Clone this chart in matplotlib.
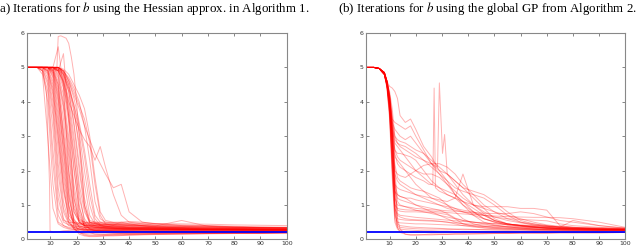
"""Two panels of iteration traces for the parameter b (Hessian approx. vs global GP)."""
import matplotlib
matplotlib.use("Agg")
import matplotlib.pyplot as plt

# ---- panel (a): Hessian approximation, values on a shared iteration grid ----
XA = [1, 5, 7, 9, 11, 13, 15, 17, 19, 21, 23, 25, 27, 29, 31, 34, 37, 40, 45, 50, 60, 70, 80, 90, 100]
YA = [
    [5, 5, 4.8, 3.0, 0.9, 0.45, 0.35, 0.3, 0.28, 0.27, 0.27, 0.26, 0.26, 0.25, 0.25, 0.25, 0.24, 0.24, 0.24, 0.23, 0.23, 0.22, 0.22, 0.22, 0.22],
    [5, 5, 4.9, 4.0, 1.6, 0.5, 0.4, 0.35, 0.33, 0.32, 0.32, 0.3, 0.3, 0.3, 0.3, 0.29, 0.29, 0.28, 0.28, 0.27, 0.27, 0.26, 0.26, 0.25, 0.25],
    [5, 5, 4.95, 4.5, 2.6, 0.9, 0.5, 0.42, 0.38, 0.36, 0.35, 0.34, 0.33, 0.33, 0.32, 0.32, 0.31, 0.31, 0.3, 0.3, 0.29, 0.29, 0.28, 0.28, 0.28],
    [5, 5, 5, 4.7, 3.6, 1.5, 0.6, 0.4, 0.35, 0.3, 0.28, 0.27, 0.26, 0.26, 0.25, 0.25, 0.25, 0.24, 0.24, 0.24, 0.23, 0.23, 0.23, 0.22, 0.22],
    [5, 5, 5, 4.8, 3.8, 1.9, 0.8, 0.45, 0.4, 0.38, 0.36, 0.35, 0.35, 0.34, 0.34, 0.33, 0.33, 0.32, 0.32, 0.32, 0.31, 0.3, 0.3, 0.3, 0.3],
    [5, 5, 5, 4.9, 4.2, 2.6, 1.1, 0.5, 0.3, 0.2, 0.15, 0.12, 0.12, 0.12, 0.13, 0.13, 0.14, 0.14, 0.15, 0.15, 0.16, 0.17, 0.17, 0.18, 0.18],
    [5, 5, 5, 4.9, 4.4, 2.9, 1.4, 0.6, 0.45, 0.42, 0.4, 0.4, 0.39, 0.38, 0.37, 0.36, 0.35, 0.34, 0.33, 0.32, 0.3, 0.29, 0.28, 0.27, 0.27],
    [5, 5, 5, 4.95, 4.6, 3.4, 1.8, 0.8, 0.5, 0.4, 0.35, 0.33, 0.32, 0.3, 0.3, 0.29, 0.28, 0.28, 0.27, 0.26, 0.26, 0.25, 0.25, 0.24, 0.24],
    [5, 5, 5, 5, 4.7, 3.6, 2.0, 0.9, 0.4, 0.3, 0.25, 0.22, 0.21, 0.2, 0.2, 0.2, 0.2, 0.2, 0.2, 0.2, 0.2, 0.2, 0.2, 0.2, 0.2],
    [5, 5, 5, 5, 4.8, 4.0, 2.6, 1.2, 0.55, 0.45, 0.42, 0.4, 0.4, 0.4, 0.39, 0.38, 0.37, 0.36, 0.35, 0.34, 0.33, 0.32, 0.31, 0.3, 0.3],
    [5, 5, 5, 5, 4.85, 4.2, 2.5, 1.0, 0.45, 0.35, 0.3, 0.28, 0.27, 0.26, 0.26, 0.25, 0.25, 0.25, 0.24, 0.24, 0.24, 0.23, 0.23, 0.23, 0.23],
    [5, 5, 5, 5, 4.9, 4.4, 3.2, 1.8, 0.8, 0.5, 0.45, 0.42, 0.4, 0.38, 0.37, 0.36, 0.36, 0.35, 0.34, 0.33, 0.32, 0.3, 0.3, 0.29, 0.29],
    [5, 5, 5, 5, 4.9, 4.5, 3.0, 1.4, 0.5, 0.2, 0.12, 0.1, 0.1, 0.1, 0.11, 0.12, 0.12, 0.13, 0.14, 0.15, 0.16, 0.17, 0.18, 0.18, 0.19],
    [5, 5, 5, 5, 4.95, 4.6, 3.8, 2.4, 1.0, 0.5, 0.4, 0.38, 0.36, 0.35, 0.34, 0.33, 0.33, 0.32, 0.31, 0.3, 0.29, 0.28, 0.28, 0.27, 0.27],
    [5, 5, 5, 5, 4.95, 4.7, 3.9, 2.6, 1.2, 0.55, 0.45, 0.43, 0.42, 0.41, 0.4, 0.4, 0.39, 0.38, 0.36, 0.35, 0.34, 0.33, 0.32, 0.31, 0.31],
    [5, 5, 5, 5, 5, 4.8, 4.2, 3.0, 1.6, 0.7, 0.4, 0.3, 0.27, 0.25, 0.24, 0.23, 0.23, 0.22, 0.22, 0.22, 0.21, 0.21, 0.21, 0.21, 0.21],
    [5, 5, 5, 5, 5, 4.85, 4.4, 3.4, 2.0, 0.9, 0.5, 0.45, 0.44, 0.43, 0.42, 0.42, 0.41, 0.4, 0.38, 0.37, 0.35, 0.34, 0.33, 0.33, 0.32],
    [5, 5, 5, 5, 5, 4.9, 4.5, 3.6, 2.4, 1.2, 0.6, 0.4, 0.35, 0.32, 0.3, 0.3, 0.29, 0.28, 0.28, 0.27, 0.26, 0.26, 0.25, 0.25, 0.25],
    [5, 5, 5, 5, 5, 4.9, 4.6, 3.8, 2.5, 1.0, 0.35, 0.2, 0.15, 0.14, 0.14, 0.14, 0.15, 0.15, 0.16, 0.17, 0.18, 0.18, 0.19, 0.19, 0.2],
    [5, 5, 5, 5, 5, 4.95, 4.7, 4.1, 3.0, 1.6, 0.8, 0.5, 0.45, 0.44, 0.43, 0.42, 0.42, 0.41, 0.4, 0.38, 0.36, 0.35, 0.34, 0.33, 0.32],
    [5, 5, 5, 5, 5, 4.95, 4.75, 4.3, 3.4, 2.2, 1.0, 0.5, 0.4, 0.36, 0.34, 0.33, 0.32, 0.31, 0.3, 0.3, 0.29, 0.28, 0.28, 0.27, 0.27],
    [5, 5, 5, 5, 5, 5, 4.8, 4.4, 3.7, 2.8, 1.6, 0.7, 0.45, 0.4, 0.38, 0.36, 0.35, 0.34, 0.33, 0.32, 0.31, 0.3, 0.3, 0.29, 0.29],
    [5, 5, 5, 5, 5, 5, 4.85, 4.5, 3.9, 3.1, 2.0, 1.0, 0.5, 0.4, 0.36, 0.34, 0.33, 0.32, 0.31, 0.3, 0.29, 0.28, 0.28, 0.27, 0.27],
    [5, 5, 5, 5, 5, 5, 4.9, 4.6, 4.1, 3.4, 2.6, 1.6, 0.7, 0.5, 0.45, 0.44, 0.43, 0.42, 0.4, 0.38, 0.36, 0.35, 0.34, 0.33, 0.33],
    [5, 5, 5, 5, 5, 5, 4.9, 4.7, 4.4, 4.0, 3.3, 2.3, 1.1, 0.6, 0.5, 0.48, 0.46, 0.45, 0.44, 0.42, 0.38, 0.36, 0.35, 0.34, 0.34],
    [5, 5, 5, 5, 5, 5, 4.95, 4.8, 4.5, 4.2, 3.8, 3.0, 1.8, 0.8, 0.55, 0.5, 0.5, 0.52, 0.5, 0.46, 0.4, 0.37, 0.36, 0.35, 0.35],
    [5, 5, 5, 5, 5, 4.9, 4.6, 4.0, 3.6, 3.2, 2.9, 2.7, 2.3, 2.7, 2.1, 1.3, 0.7, 0.5, 0.45, 0.42, 0.4, 0.38, 0.36, 0.35, 0.34],
    [5, 5, 5, 5, 5, 5, 4.9, 4.6, 4.2, 3.8, 3.3, 2.9, 2.5, 2.2, 1.9, 1.5, 1.6, 0.8, 0.5, 0.45, 0.42, 0.4, 0.38, 0.36, 0.35],
    [5, 5, 5, 5, 5, 5.6, 4.4, 2.0, 0.8, 0.5, 0.4, 0.37, 0.35, 0.34, 0.33, 0.32, 0.31, 0.3, 0.3, 0.29, 0.28, 0.28, 0.27, 0.27, 0.26],
    [5, 5, 5, 5, 4.95, 4.9, 5.4, 3.5, 1.2, 0.5, 0.4, 0.38, 0.36, 0.35, 0.34, 0.33, 0.32, 0.31, 0.3, 0.3, 0.29, 0.28, 0.28, 0.27, 0.27],
    [5, 5, 4.95, 4.6, 3.2, 1.2, 0.55, 0.5, 0.48, 0.47, 0.46, 0.45, 0.45, 0.44, 0.43, 0.42, 0.5, 0.45, 0.4, 0.36, 0.33, 0.3, 0.3, 0.29, 0.29],
    [5, 5, 5, 4.85, 4.0, 2.2, 0.9, 0.5, 0.35, 0.3, 0.28, 0.27, 0.26, 0.25, 0.25, 0.24, 0.24, 0.23, 0.23, 0.23, 0.22, 0.22, 0.21, 0.21, 0.21],
    [5, 5, 5, 4.9, 4.3, 3.0, 1.5, 0.7, 0.5, 0.45, 0.42, 0.4, 0.4, 0.39, 0.38, 0.37, 0.37, 0.36, 0.35, 0.34, 0.33, 0.32, 0.31, 0.31, 0.3],
    [5, 5, 5, 5, 4.75, 3.8, 2.2, 1.0, 0.35, 0.15, 0.1, 0.08, 0.08, 0.09, 0.1, 0.1, 0.11, 0.12, 0.13, 0.14, 0.15, 0.16, 0.17, 0.17, 0.18],
    [5, 5, 5, 5, 4.9, 4.3, 3.0, 1.6, 0.6, 0.35, 0.3, 0.3, 0.3, 0.3, 0.29, 0.29, 0.29, 0.28, 0.28, 0.28, 0.27, 0.27, 0.27, 0.26, 0.26],
    [5, 5, 5, 5, 5, 4.75, 4.0, 2.8, 1.4, 0.6, 0.5, 0.48, 0.47, 0.46, 0.45, 0.44, 0.43, 0.42, 0.4, 0.39, 0.55, 0.38, 0.35, 0.34, 0.33],
    [5, 5, 5, 5, 5, 4.9, 4.55, 3.6, 2.1, 0.8, 0.4, 0.32, 0.3, 0.28, 0.27, 0.26, 0.26, 0.25, 0.25, 0.24, 0.24, 0.23, 0.23, 0.23, 0.22],
    [5, 5, 5, 5, 5, 4.95, 4.65, 3.9, 2.8, 1.4, 0.5, 0.3, 0.25, 0.22, 0.2, 0.18, 0.17, 0.17, 0.17, 0.17, 0.18, 0.18, 0.19, 0.19, 0.2],
    [5, 5, 5, 5, 5, 5, 4.8, 4.3, 3.3, 2.0, 0.9, 0.45, 0.38, 0.35, 0.33, 0.32, 0.31, 0.3, 0.3, 0.29, 0.28, 0.28, 0.27, 0.27, 0.26],
    [5, 5, 5, 5, 5, 5, 4.85, 4.5, 3.8, 2.6, 1.2, 0.55, 0.5, 0.48, 0.47, 0.46, 0.45, 0.44, 0.42, 0.4, 0.37, 0.4, 0.36, 0.34, 0.33],
    [5, 5, 5, 4.95, 4.5, 3.2, 1.6, 0.6, 0.3, 0.2, 0.17, 0.16, 0.16, 0.16, 0.16, 0.17, 0.17, 0.17, 0.18, 0.18, 0.18, 0.19, 0.19, 0.19, 0.2],
    [5, 5, 5, 5, 4.85, 4.1, 2.8, 1.3, 0.5, 0.38, 0.35, 0.34, 0.33, 0.32, 0.32, 0.31, 0.31, 0.3, 0.3, 0.29, 0.29, 0.28, 0.28, 0.28, 0.27],
    [5, 5, 5, 5, 4.95, 4.5, 3.5, 2.0, 0.9, 0.55, 0.5, 0.5, 0.5, 0.5, 0.5, 0.49, 0.48, 0.48, 0.47, 0.46, 0.45, 0.44, 0.42, 0.41, 0.4],
    [5, 5, 5, 5, 5, 5, 4.9, 4.65, 4.3, 3.9, 3.5, 2.8, 1.6, 0.7, 0.45, 0.4, 0.38, 0.36, 0.35, 0.34, 0.32, 0.31, 0.3, 0.3, 0.29],
    [5, 5, 5, 5, 5, 4.95, 4.8, 4.4, 3.9, 3.3, 2.4, 1.3, 0.6, 0.42, 0.38, 0.36, 0.35, 0.34, 0.33, 0.32, 0.31, 0.3, 0.29, 0.29, 0.28],
    [5, 5, 4.9, 4.3, 2.2, 0.7, 0.4, 0.32, 0.3, 0.28, 0.27, 0.27, 0.26, 0.26, 0.26, 0.25, 0.25, 0.25, 0.24, 0.24, 0.24, 0.23, 0.23, 0.23, 0.23],
]
# traces of (a) that need their own iteration points
XA_EXTRA = [
    [1, 5, 7, 8.5, 9.7, 9.9, 11, 13, 15, 20, 30, 40, 50, 70, 100],
    [1, 5, 9, 12.5, 13, 14, 16, 17, 18, 19, 20, 21, 23, 25, 30, 40, 50, 70, 100],
]
YA_EXTRA = [
    [5, 5, 4.9, 4.3, 1.6, 0.25, 0.2, 0.22, 0.25, 0.27, 0.28, 0.28, 0.28, 0.27, 0.26],
    [5, 5, 5, 5, 5.9, 5.92, 5.85, 5.7, 5.3, 4.8, 4.0, 3.0, 1.0, 0.5, 0.42, 0.4, 0.36, 0.32, 0.3],
]

# ---- panel (b): global GP ----
XB = [1, 4, 6, 8, 9, 10, 11, 12, 13, 14, 16, 18, 20, 23, 26, 29, 32, 35, 38, 42, 46, 50, 55, 60, 65, 70, 75, 80, 90, 100]
YB = [
    [5, 5, 4.97, 4.8, 4.4, 3.6, 2.0, 0.6, 0.35, 0.3, 0.28, 0.27, 0.26, 0.25, 0.25, 0.24, 0.24, 0.23, 0.23, 0.23, 0.22, 0.22, 0.22, 0.22, 0.21, 0.21, 0.21, 0.21, 0.21, 0.21],
    [5, 5, 4.97, 4.8, 4.5, 3.9, 2.6, 1.0, 0.45, 0.4, 0.38, 0.36, 0.35, 0.34, 0.33, 0.32, 0.31, 0.3, 0.3, 0.29, 0.28, 0.28, 0.27, 0.27, 0.26, 0.26, 0.25, 0.25, 0.25, 0.25],
    [5, 5, 4.97, 4.85, 4.6, 4.1, 3.2, 1.8, 0.6, 0.3, 0.15, 0.12, 0.12, 0.13, 0.13, 0.14, 0.14, 0.15, 0.15, 0.16, 0.16, 0.17, 0.17, 0.18, 0.18, 0.18, 0.19, 0.19, 0.19, 0.2],
    [5, 5, 4.97, 4.8, 4.5, 3.8, 2.4, 0.9, 0.7, 0.65, 0.6, 0.58, 0.57, 0.56, 0.55, 0.53, 0.5, 0.45, 0.4, 0.36, 0.33, 0.31, 0.3, 0.29, 0.28, 0.28, 0.27, 0.27, 0.26, 0.26],
    [5, 5, 4.97, 4.85, 4.55, 4.0, 3.0, 1.5, 0.85, 0.82, 0.8, 0.8, 0.8, 0.79, 0.78, 0.76, 0.72, 0.6, 0.45, 0.38, 0.34, 0.32, 0.3, 0.3, 0.29, 0.28, 0.28, 0.27, 0.27, 0.26],
    [5, 5, 4.97, 4.85, 4.6, 4.1, 3.1, 1.4, 1.2, 1.15, 1.1, 1.05, 1.0, 0.95, 0.9, 0.85, 0.75, 0.62, 0.55, 0.5, 0.45, 0.4, 0.36, 0.33, 0.31, 0.3, 0.29, 0.28, 0.27, 0.27],
    [5, 5, 4.97, 4.85, 4.6, 4.45, 4.4, 4.3, 4.1, 3.6, 3.4, 3.5, 3.2, 2.7, 2.4, 2.0, 1.7, 1.3, 1.0, 0.7, 0.5, 0.42, 0.36, 0.33, 0.3, 0.29, 0.28, 0.27, 0.26, 0.26],
    [5, 5, 4.97, 4.85, 4.6, 4.2, 3.5, 3.4, 3.35, 3.3, 3.2, 3.3, 3.0, 2.6, 2.2, 1.9, 1.6, 1.3, 1.1, 0.8, 0.6, 0.5, 0.42, 0.38, 0.35, 0.32, 0.3, 0.29, 0.28, 0.27],
    [5, 5, 4.97, 4.85, 4.6, 4.15, 3.4, 3.2, 3.1, 3.0, 2.9, 3.0, 2.8, 2.5, 2.2, 2.0, 1.9, 1.7, 1.5, 1.2, 0.9, 0.6, 0.45, 0.4, 0.36, 0.33, 0.31, 0.3, 0.29, 0.28],
    [5, 5, 4.97, 4.8, 4.55, 4.0, 3.2, 2.8, 2.7, 2.6, 2.4, 2.2, 2.0, 1.8, 1.6, 1.5, 1.4, 1.3, 1.1, 0.9, 0.7, 0.55, 0.45, 0.4, 0.36, 0.33, 0.31, 0.3, 0.29, 0.28],
    [5, 5, 4.97, 4.8, 4.5, 3.9, 3.0, 2.4, 2.3, 2.2, 2.0, 1.8, 1.6, 1.4, 1.2, 1.1, 1.0, 0.9, 0.8, 0.7, 0.6, 0.52, 0.45, 0.4, 0.36, 0.33, 0.31, 0.3, 0.29, 0.28],
    [5, 5, 4.97, 4.85, 4.6, 4.1, 3.2, 2.0, 1.9, 1.85, 1.8, 1.9, 2.0, 2.15, 2.2, 2.2, 2.1, 1.9, 1.6, 1.3, 1.0, 0.8, 0.6, 0.5, 0.45, 0.4, 0.36, 0.33, 0.3, 0.29],
    [5, 5, 4.97, 4.8, 4.5, 3.9, 2.8, 1.6, 1.5, 1.45, 1.4, 1.35, 1.3, 1.25, 1.2, 1.15, 1.1, 1.2, 1.9, 1.0, 0.8, 0.65, 0.55, 0.48, 0.42, 0.38, 0.35, 0.32, 0.3, 0.29],
    [5, 5, 4.97, 4.85, 4.55, 4.05, 3.1, 2.6, 2.5, 2.5, 2.45, 2.4, 2.3, 2.0, 1.7, 1.5, 1.3, 1.2, 1.1, 1.0, 0.95, 0.95, 0.95, 0.9, 0.9, 0.85, 0.4, 0.35, 0.31, 0.29],
    [5, 5, 4.97, 4.8, 4.5, 3.95, 2.9, 1.2, 1.0, 0.98, 0.95, 0.93, 0.9, 0.88, 0.86, 0.85, 0.83, 0.82, 0.8, 0.78, 0.76, 0.75, 0.75, 0.8, 0.75, 0.65, 0.55, 0.5, 0.4, 0.33],
    [5, 5, 4.97, 4.8, 4.45, 3.7, 2.2, 0.7, 0.5, 0.48, 0.47, 0.46, 0.45, 0.45, 0.44, 0.43, 0.42, 0.41, 0.4, 0.39, 0.38, 0.37, 0.36, 0.35, 0.34, 0.33, 0.32, 0.31, 0.3, 0.3],
    [5, 5, 4.97, 4.8, 4.5, 3.85, 2.7, 1.1, 0.6, 0.58, 0.56, 0.55, 0.55, 0.54, 0.53, 0.52, 0.5, 0.48, 0.46, 0.44, 0.42, 0.4, 0.38, 0.36, 0.34, 0.33, 0.32, 0.31, 0.3, 0.3],
    [5, 5, 4.97, 4.85, 4.6, 4.15, 3.3, 2.2, 1.8, 1.7, 1.6, 1.5, 1.45, 1.4, 1.3, 1.2, 1.0, 0.8, 0.6, 0.45, 0.38, 0.34, 0.32, 0.3, 0.29, 0.28, 0.27, 0.27, 0.26, 0.26],
    [5, 5, 4.97, 4.85, 4.58, 4.1, 3.3, 2.9, 2.8, 2.75, 2.7, 2.6, 2.5, 2.3, 2.1, 1.9, 1.7, 1.5, 1.4, 1.3, 1.2, 1.0, 0.7, 0.5, 0.42, 0.38, 0.35, 0.33, 0.31, 0.3],
    [5, 5, 4.97, 4.8, 4.5, 3.9, 2.9, 1.9, 1.7, 1.6, 1.5, 1.4, 1.3, 1.2, 1.1, 1.0, 0.9, 0.85, 0.8, 0.75, 0.7, 0.65, 0.6, 0.58, 0.56, 0.54, 0.45, 0.4, 0.35, 0.3],
    [5, 5, 4.97, 4.8, 4.4, 3.5, 1.8, 0.5, 0.3, 0.25, 0.22, 0.2, 0.2, 0.2, 0.19, 0.19, 0.19, 0.19, 0.19, 0.19, 0.19, 0.2, 0.2, 0.2, 0.2, 0.2, 0.2, 0.2, 0.2, 0.2],
    [5, 5, 4.97, 4.8, 4.45, 3.65, 2.1, 0.8, 0.4, 0.35, 0.33, 0.32, 0.31, 0.3, 0.3, 0.3, 0.29, 0.29, 0.28, 0.28, 0.28, 0.27, 0.27, 0.27, 0.26, 0.26, 0.26, 0.25, 0.25, 0.25],
    [5, 5, 4.97, 4.85, 4.55, 4.0, 3.1, 2.0, 1.1, 1.0, 0.95, 0.9, 0.85, 0.8, 0.75, 0.7, 0.65, 0.6, 0.55, 0.5, 0.47, 0.45, 0.43, 0.41, 0.39, 0.37, 0.35, 0.55, 0.4, 0.32],
    [5, 5, 4.97, 4.85, 4.6, 4.2, 3.4, 2.6, 2.4, 2.3, 2.2, 2.1, 2.0, 1.9, 1.9, 1.8, 1.6, 1.4, 1.2, 1.0, 0.9, 0.8, 0.7, 0.6, 0.5, 0.42, 0.38, 0.35, 0.32, 0.3],
    [5, 5, 4.97, 4.8, 4.5, 3.9, 2.8, 1.3, 0.75, 0.7, 0.68, 0.66, 0.64, 0.62, 0.6, 0.58, 0.56, 0.54, 0.52, 0.5, 0.48, 0.46, 0.44, 0.42, 0.4, 0.38, 0.36, 0.35, 0.34, 0.33],
    [5, 5, 4.97, 4.85, 4.55, 4.0, 3.0, 1.6, 1.3, 1.25, 1.2, 1.2, 1.15, 1.1, 1.05, 1.0, 0.95, 0.9, 0.85, 0.8, 0.7, 0.55, 0.45, 0.4, 0.37, 0.35, 0.33, 0.32, 0.3, 0.29],
    [5, 5, 4.97, 4.8, 4.45, 3.7, 2.3, 0.9, 0.35, 0.2, 0.15, 0.14, 0.14, 0.14, 0.15, 0.15, 0.15, 0.16, 0.16, 0.16, 0.17, 0.17, 0.17, 0.18, 0.18, 0.18, 0.19, 0.19, 0.19, 0.2],
    [5, 5, 4.97, 4.85, 4.6, 4.2, 3.45, 3.0, 2.9, 2.85, 2.8, 2.7, 2.6, 2.5, 2.3, 2.1, 1.9, 1.7, 1.5, 1.4, 1.3, 1.1, 0.8, 0.55, 0.45, 0.4, 0.36, 0.33, 0.31, 0.3],
    [5, 5, 4.97, 4.8, 4.5, 3.85, 2.5, 1.0, 0.9, 0.88, 0.86, 0.85, 0.84, 0.83, 0.82, 0.8, 0.78, 0.76, 0.74, 0.72, 0.7, 0.68, 0.66, 0.65, 0.64, 0.64, 0.63, 0.6, 0.5, 0.35],
    [5, 5, 4.97, 4.8, 4.5, 3.8, 2.4, 1.4, 1.3, 1.25, 1.2, 1.1, 1.0, 0.9, 0.8, 0.7, 0.6, 0.5, 0.45, 0.4, 0.37, 0.35, 0.33, 0.32, 0.31, 0.3, 0.29, 0.28, 0.27, 0.27],
]
XB_EXTRA = [
    [1, 4, 6, 8, 9, 10, 11, 12, 13, 14, 16, 18, 20, 23, 25, 26.5, 27, 27.5, 29, 32, 35, 38, 42, 46, 50, 55, 60, 70, 80, 90, 100],
    [1, 4, 6, 8, 9, 10, 11, 12, 13, 14, 16, 18, 20, 23, 26, 28.3, 29, 30.2, 31, 32, 35, 38, 42, 46, 50, 55, 60, 70, 80, 90, 100],
]
YB_EXTRA = [
    [5, 5, 4.97, 4.85, 4.6, 4.2, 3.6, 2.5, 2.2, 2.1, 2.0, 1.9, 1.8, 1.7, 1.6, 1.6, 4.4, 1.5, 1.4, 1.3, 1.2, 1.0, 0.8, 0.6, 0.5, 0.42, 0.38, 0.33, 0.3, 0.28, 0.27],
    [5, 5, 4.97, 4.85, 4.6, 4.3, 3.8, 3.0, 2.8, 2.7, 2.6, 2.5, 2.4, 2.3, 2.2, 2.1, 4.55, 2.5, 3.05, 1.9, 1.6, 1.3, 1.0, 0.75, 0.55, 0.45, 0.4, 0.35, 0.31, 0.29, 0.28],
]

TRUE_B = 0.2   # blue reference line
XTICKS = [10, 20, 30, 40, 50, 60, 70, 80, 90, 100]
YTICKS = [0, 1, 2, 3, 4, 5, 6]
TITLES = ["(a) Iterations for $b$ using the Hessian approx. in Algorithm 1.",
          "(b) Iterations for $b$ using the global GP from Algorithm 2."]

plt.rcParams["mathtext.fontset"] = "stix"

fig = plt.figure(figsize=(6.4, 2.46), dpi=100)
axes = [fig.add_axes([0.0417, 0.027, 0.4063, 0.8387]),
        fig.add_axes([0.5719, 0.027, 0.4052, 0.8387])]

panels = [(XA, YA, XA_EXTRA, YA_EXTRA), (XB, YB, XB_EXTRA, YB_EXTRA)]
for ax, (xg, rows, xs_extra, ys_extra) in zip(axes, panels):
    for ys in rows:
        ax.plot(xg, ys, color="red", alpha=0.3, lw=0.7)
    for xs, ys in zip(xs_extra, ys_extra):
        ax.plot(xs, ys, color="red", alpha=0.3, lw=0.7)
    ax.axhline(TRUE_B, color="blue", lw=1.3)
    ax.set_xlim(1, 100)
    ax.set_ylim(0, 6)
    ax.set_xticks(XTICKS)
    ax.set_yticks(YTICKS)
    ax.tick_params(direction="in", length=2, width=0.5, top=True, right=True,
                   labelsize=4.5, labelcolor="#333333", color="#555555", pad=1.5)
    for sp in ax.spines.values():
        sp.set_color("#888888")
        sp.set_linewidth(0.8)

fig.text(0.2375, 0.965, TITLES[0], ha="center", va="center",
         family="Liberation Serif", fontsize=9.3)
fig.text(0.762, 0.965, TITLES[1], ha="center", va="center",
         family="Liberation Serif", fontsize=9.3)

fig.savefig("out.png", dpi=100)
